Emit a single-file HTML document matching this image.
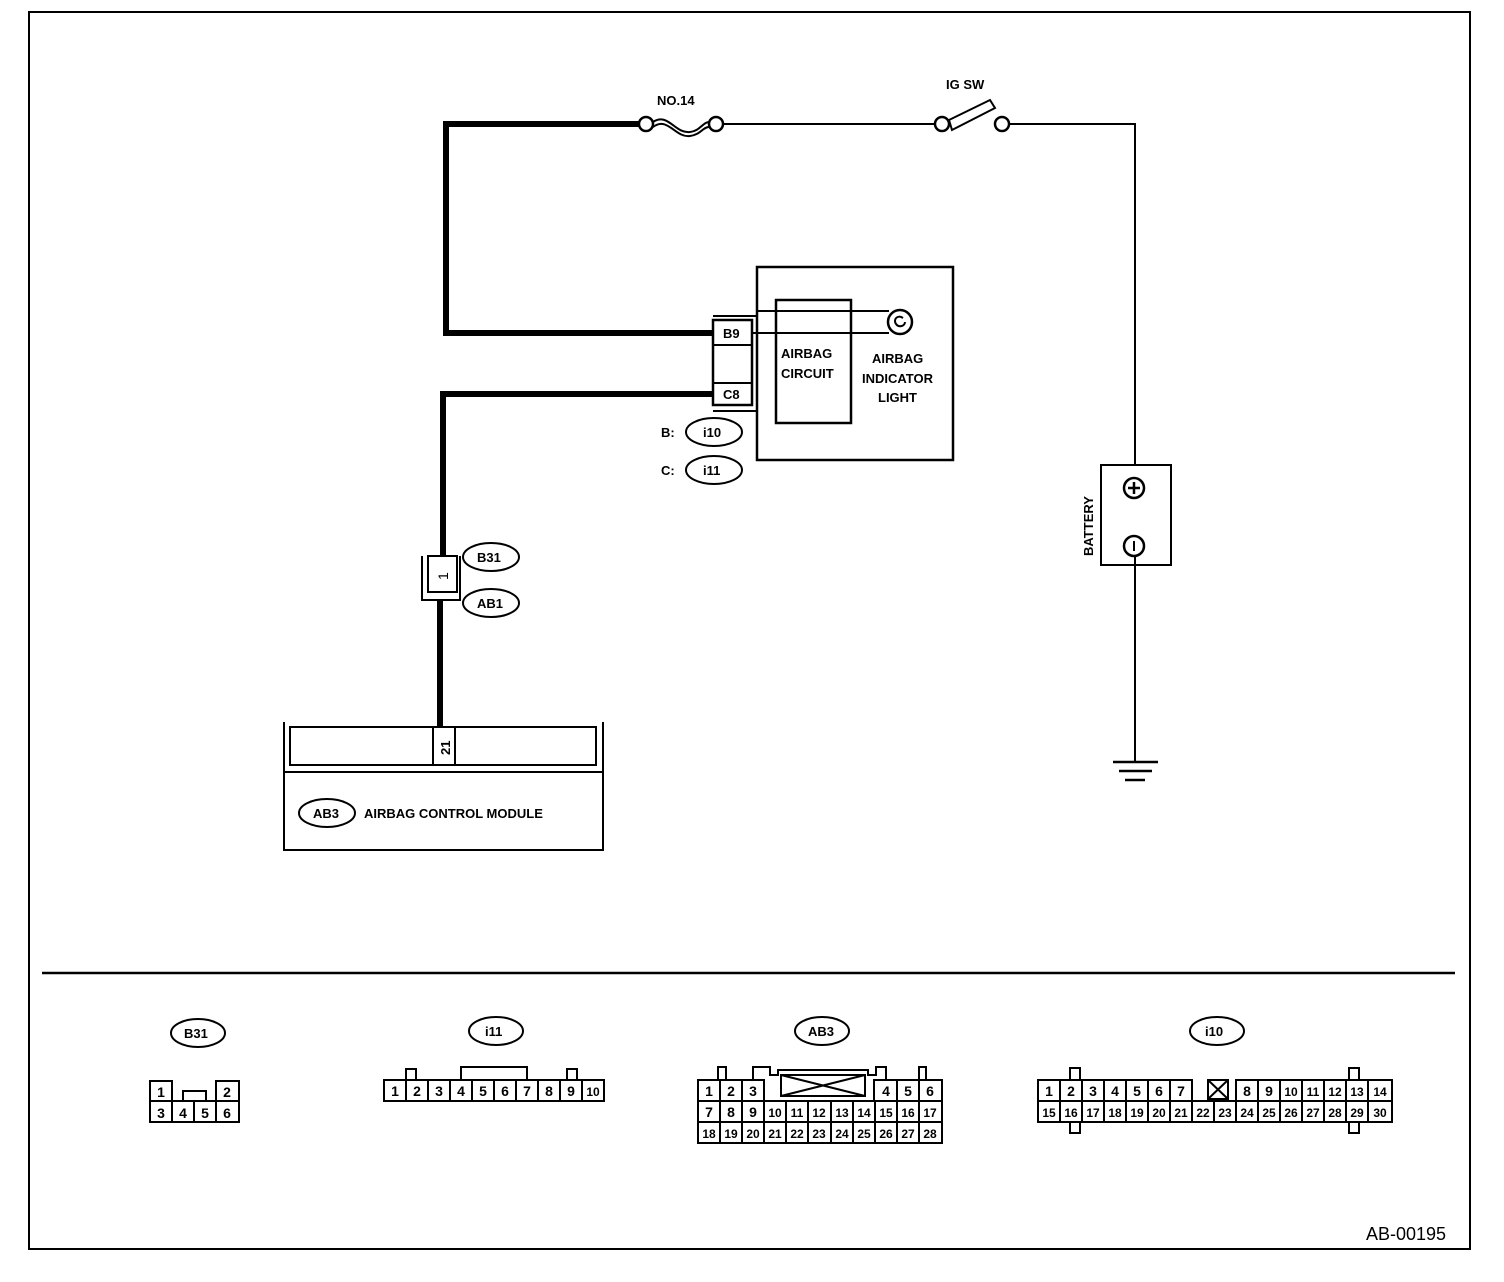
<!DOCTYPE html>
<html><head><meta charset="utf-8"><style>
html,body{margin:0;padding:0;background:#fff;}
svg{display:block;}
text{font-family:"Liberation Sans",sans-serif;font-weight:bold;fill:#000;}
.n{font-weight:normal;font-size:14px;}
</style></head><body>
<svg width="1504" height="1282" viewBox="0 0 1504 1282" xmlns="http://www.w3.org/2000/svg">
<g fill="none" stroke="#000">
<rect x="29" y="12" width="1441" height="1237" stroke-width="2"/>
<line x1="42" y1="973" x2="1455" y2="973" stroke-width="2.5"/>
<polyline points="640,124 446,124 446,333 713,333" stroke-width="6"/>
<polyline points="713,394 443,394 443,556" stroke-width="6"/>
<line x1="440" y1="600" x2="440" y2="728" stroke-width="6"/>
<circle cx="646" cy="124" r="7" stroke-width="2.5" fill="#fff"/>
<circle cx="716" cy="124" r="7" stroke-width="2.5" fill="#fff"/>
<path d="M653,122 C668,112 675,134 690,132 C700,131 703,122 709,122" stroke-width="2"/>
<path d="M653,127 C668,116 675,138 690,136 C700,135 703,127 709,127" stroke-width="2"/>
<line x1="723" y1="124" x2="935" y2="124" stroke-width="2"/>
<circle cx="942" cy="124" r="7" stroke-width="2.5" fill="#fff"/>
<circle cx="1002" cy="124" r="7" stroke-width="2.5" fill="#fff"/>
<polygon points="949,120 990,100 995,108 952,130" stroke-width="2" fill="#fff"/>
<polyline points="1009,124 1135,124 1135,466" stroke-width="2"/>
<rect x="1101" y="465" width="70" height="100" stroke-width="2"/>
<circle cx="1134" cy="488" r="10" stroke-width="2.5"/>
<line x1="1128" y1="488" x2="1140" y2="488" stroke-width="2.5"/>
<line x1="1134" y1="482" x2="1134" y2="494" stroke-width="2.5"/>
<circle cx="1134" cy="546" r="10" stroke-width="2.5"/>
<line x1="1134" y1="541" x2="1134" y2="551" stroke-width="2"/>
<line x1="1135" y1="556" x2="1135" y2="762" stroke-width="2"/>
<line x1="1113" y1="762" x2="1158" y2="762" stroke-width="2.5"/>
<line x1="1119" y1="771" x2="1152" y2="771" stroke-width="2.5"/>
<line x1="1125" y1="780" x2="1145" y2="780" stroke-width="2.5"/>
<rect x="757" y="267" width="196" height="193" stroke-width="2.5"/>
<rect x="776" y="300" width="75" height="123" stroke-width="2.5"/>
<circle cx="900" cy="322" r="12" stroke-width="2.5"/>
<path d="M903,318 C897,314 893,320 896,324 C899,328 905,326 905,322" stroke-width="2"/>
<line x1="757" y1="311" x2="889" y2="311" stroke-width="2"/>
<line x1="752" y1="333" x2="889" y2="333" stroke-width="2"/>
<rect x="713" y="320" width="39" height="85" stroke-width="2.5"/>
<line x1="713" y1="345" x2="752" y2="345" stroke-width="2"/>
<line x1="713" y1="383" x2="752" y2="383" stroke-width="2"/>
<polyline points="713,316 757,316 757,411 713,411" stroke-width="2"/>
<rect x="428" y="556" width="29" height="36" stroke-width="2" fill="#fff"/>
<polyline points="422,556 422,600 460,600 460,556" stroke-width="2"/>
<polyline points="284,722 284,850 603,850 603,722" stroke-width="2"/>
<rect x="290" y="727" width="306" height="38" stroke-width="2"/>
<rect x="433" y="727" width="22" height="38" stroke-width="2" fill="#fff"/>
<line x1="284" y1="772" x2="603" y2="772" stroke-width="2"/>
<ellipse cx="491" cy="557" rx="28" ry="14" stroke-width="2"/>
<ellipse cx="491" cy="603" rx="28" ry="14" stroke-width="2"/>
<ellipse cx="714" cy="432" rx="28" ry="14" stroke-width="2"/>
<ellipse cx="714" cy="470" rx="28" ry="14" stroke-width="2"/>
<ellipse cx="327" cy="813" rx="28" ry="14" stroke-width="2"/>
<ellipse cx="198" cy="1033" rx="27" ry="14" stroke-width="2"/>
<ellipse cx="496" cy="1031" rx="27" ry="14" stroke-width="2"/>
<ellipse cx="822" cy="1031" rx="27" ry="14" stroke-width="2"/>
<ellipse cx="1217" cy="1031" rx="27" ry="14" stroke-width="2"/>
</g>
<text x="657" y="105" font-size="13">NO.14</text>
<text x="946" y="89" font-size="13">IG SW</text>
<text x="723" y="338" font-size="13">B9</text>
<text x="723" y="399" font-size="13">C8</text>
<text x="781" y="358" font-size="13">AIRBAG</text>
<text x="781" y="378" font-size="13">CIRCUIT</text>
<text x="872" y="363" font-size="13">AIRBAG</text>
<text x="862" y="383" font-size="13">INDICATOR</text>
<text x="878" y="402" font-size="13">LIGHT</text>
<text x="661" y="437" font-size="13">B:</text>
<text x="661" y="475" font-size="13">C:</text>
<text x="703" y="437" font-size="13">i10</text>
<text x="703" y="475" font-size="13">i11</text>
<text x="477" y="562" font-size="13">B31</text>
<text x="477" y="608" font-size="13">AB1</text>
<text x="313" y="818" font-size="13">AB3</text>
<text x="364" y="818" font-size="13">AIRBAG CONTROL MODULE</text>
<text transform="translate(1093,556) rotate(-90)" font-size="13">BATTERY</text>
<text transform="translate(448,580) rotate(-90)" font-size="12" class="n">1</text>
<text transform="translate(450,755) rotate(-90)" font-size="13">21</text>
<text x="184" y="1038" font-size="13">B31</text>
<text x="485" y="1036" font-size="13">i11</text>
<text x="808" y="1036" font-size="13">AB3</text>
<text x="1205" y="1036" font-size="13">i10</text>
<text x="1366" y="1240" font-size="18" style="font-weight:normal">AB-00195</text>

<g fill="none" stroke="#000" stroke-width="2">
<rect x="150" y="1081" width="22" height="20"/><rect x="216" y="1081" width="23" height="20"/>
<rect x="150" y="1101" width="89" height="21"/>
<line x1="172" y1="1101" x2="172" y2="1122"/><line x1="194" y1="1101" x2="194" y2="1122"/><line x1="216" y1="1101" x2="216" y2="1122"/>
<rect x="183" y="1091" width="23" height="10"/>
<rect x="384" y="1080" width="220" height="21"/>
<path d="M406,1080 V1069 H416 V1080"/>
<path d="M461,1080 V1067 H527 V1080"/>
<path d="M567,1080 V1069 H577 V1080"/>
<path d="M406,1080V1101M428,1080V1101M450,1080V1101M472,1080V1101M494,1080V1101M516,1080V1101M538,1080V1101M560,1080V1101M582,1080V1101"/>
<rect x="698" y="1080" width="66" height="21"/>
<path d="M720,1080V1101M742,1080V1101"/>
<rect x="874" y="1080" width="68" height="21"/>
<path d="M897,1080V1101M919,1080V1101"/>
<rect x="698" y="1101" width="244" height="42"/>
<line x1="698" y1="1122" x2="942" y2="1122"/>
<path d="M720,1101V1143M742,1101V1143M764,1101V1143M786,1101V1143M808,1101V1143M831,1101V1143M853,1101V1143M875,1101V1143M897,1101V1143M919,1101V1143"/>
<path d="M718,1080V1067H726V1080M753,1080V1067H770V1075H778V1070H868V1075H876V1067H886V1080M919,1080V1067H926V1080"/>
<rect x="781" y="1075" width="84" height="21"/>
<path d="M781,1075L865,1096M781,1096L865,1075"/>
<rect x="1038" y="1080" width="154" height="21"/>
<path d="M1060,1080V1101M1082,1080V1101M1104,1080V1101M1126,1080V1101M1148,1080V1101M1170,1080V1101"/>
<rect x="1236" y="1080" width="156" height="21"/>
<path d="M1258,1080V1101M1280,1080V1101M1302,1080V1101M1324,1080V1101M1346,1080V1101M1368,1080V1101"/>
<rect x="1208" y="1080" width="20" height="19"/>
<path d="M1208,1080L1228,1099M1208,1099L1228,1080"/>
<rect x="1038" y="1101" width="354" height="21"/>
<path d="M1060,1101V1122M1082,1101V1122M1104,1101V1122M1126,1101V1122M1148,1101V1122M1170,1101V1122M1192,1101V1122M1214,1101V1122M1236,1101V1122M1258,1101V1122M1280,1101V1122M1302,1101V1122M1324,1101V1122M1346,1101V1122M1368,1101V1122"/>
<rect x="1070" y="1068" width="10" height="12"/><rect x="1070" y="1122" width="10" height="11"/>
<rect x="1349" y="1068" width="10" height="12"/><rect x="1349" y="1122" width="10" height="11"/>
</g>
<g class="n" font-size="14" text-anchor="middle" style="font-weight:normal">
<text x="161" y="1097">1</text><text x="227" y="1097">2</text>
<text x="161" y="1118">3</text><text x="183" y="1118">4</text><text x="205" y="1118">5</text><text x="227" y="1118">6</text>
<text x="395" y="1096">1</text><text x="417" y="1096">2</text><text x="439" y="1096">3</text><text x="461" y="1096">4</text><text x="483" y="1096">5</text><text x="505" y="1096">6</text><text x="527" y="1096">7</text><text x="549" y="1096">8</text><text x="571" y="1096">9</text><text x="593" y="1096" font-size="12">10</text>
<text x="709" y="1096">1</text><text x="731" y="1096">2</text><text x="753" y="1096">3</text><text x="886" y="1096">4</text><text x="908" y="1096">5</text><text x="930" y="1096">6</text>
<text x="709" y="1117">7</text><text x="731" y="1117">8</text><text x="753" y="1117">9</text><text x="775" y="1117" font-size="12">10</text><text x="797" y="1117" font-size="12">11</text><text x="819" y="1117" font-size="12">12</text><text x="842" y="1117" font-size="12">13</text><text x="864" y="1117" font-size="12">14</text><text x="886" y="1117" font-size="12">15</text><text x="908" y="1117" font-size="12">16</text><text x="930" y="1117" font-size="12">17</text>
<g font-size="12"><text x="709" y="1138">18</text><text x="731" y="1138">19</text><text x="753" y="1138">20</text><text x="775" y="1138">21</text><text x="797" y="1138">22</text><text x="819" y="1138">23</text><text x="842" y="1138">24</text><text x="864" y="1138">25</text><text x="886" y="1138">26</text><text x="908" y="1138">27</text><text x="930" y="1138">28</text></g>
<text x="1049" y="1096">1</text><text x="1071" y="1096">2</text><text x="1093" y="1096">3</text><text x="1115" y="1096">4</text><text x="1137" y="1096">5</text><text x="1159" y="1096">6</text><text x="1181" y="1096">7</text>
<text x="1247" y="1096">8</text><text x="1269" y="1096">9</text>
<g font-size="12"><text x="1291" y="1096">10</text><text x="1313" y="1096">11</text><text x="1335" y="1096">12</text><text x="1357" y="1096">13</text><text x="1380" y="1096">14</text>
<text x="1049" y="1117">15</text><text x="1071" y="1117">16</text><text x="1093" y="1117">17</text><text x="1115" y="1117">18</text><text x="1137" y="1117">19</text><text x="1159" y="1117">20</text><text x="1181" y="1117">21</text><text x="1203" y="1117">22</text><text x="1225" y="1117">23</text><text x="1247" y="1117">24</text><text x="1269" y="1117">25</text><text x="1291" y="1117">26</text><text x="1313" y="1117">27</text><text x="1335" y="1117">28</text><text x="1357" y="1117">29</text><text x="1380" y="1117">30</text></g>
</g>
</svg>
</body></html>
